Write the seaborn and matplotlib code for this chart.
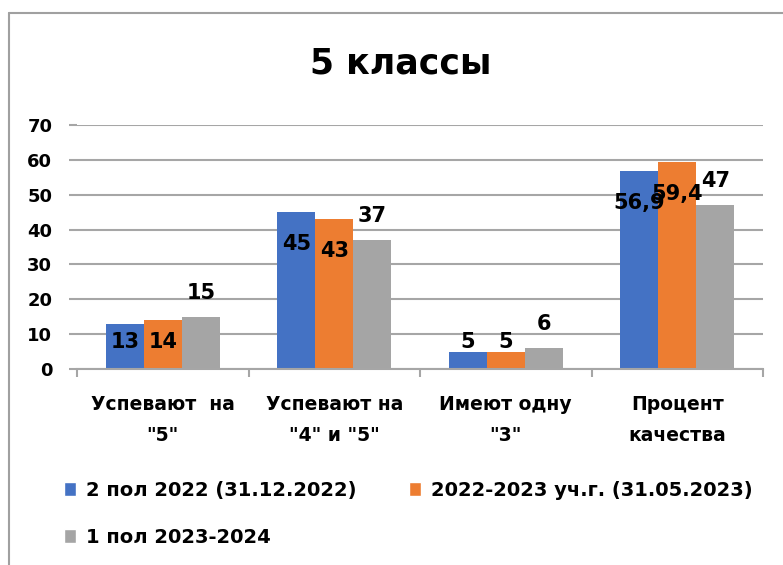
import matplotlib
matplotlib.use('Agg')
import matplotlib.pyplot as plt
import seaborn as sns
import pandas as pd
from matplotlib.patches import Patch
from matplotlib.lines import Line2D

# ---- data ----
categories = ['Успевают  на\n"5"', 'Успевают на\n"4" и "5"', 'Имеют одну\n"3"', 'Процент\nкачества']
series_names = ['2 пол 2022 (31.12.2022)', '2022-2023 уч.г. (31.05.2023)', '1 пол 2023-2024']
s1_values = [13, 45, 5, 56.9]
s2_values = [14, 43, 5, 59.4]
s3_values = [15, 37, 6, 47]
colors = ['#4472C4', '#ED7D31', '#A5A5A5']
y_ticks = [0, 10, 20, 30, 40, 50, 60, 70]
title = '5 классы'

series_values = [s1_values, s2_values, s3_values]
rows = []
for name, vals in zip(series_names, series_values):
    for c, v in zip(categories, vals):
        rows.append({'cat': c, 'val': v, 'series': name})
df = pd.DataFrame(rows)

sns.set_theme(style='white')
plt.rcParams['font.family'] = ['DejaVu Sans']
plt.rcParams['font.weight'] = 'bold'
plt.rcParams['text.color'] = 'black'

W, H = 783, 565
fig = plt.figure(figsize=(W / 100, H / 100), dpi=100)
ax = fig.add_axes([77 / W, 1 - 369 / H, (763 - 77) / W, (369 - 125) / H])

sns.barplot(data=df, x='cat', y='val', hue='series', hue_order=series_names,
            order=categories, palette=colors, width=0.665, gap=0,
            saturation=1, legend=False, ax=ax, errorbar=None, linewidth=0)

grid_c = '#a6a6a6'
ax.set_xlim(-0.5, len(categories) - 0.5)
ax.set_ylim(0, 70)
ax.set_yticks(y_ticks)
ax.set_yticklabels([str(t) for t in y_ticks], fontsize=13, fontweight='bold', color='black')
ax.yaxis.grid(True, color=grid_c, linewidth=1.5)
ax.set_axisbelow(True)
for s in ['left', 'right', 'top']:
    ax.spines[s].set_visible(False)
ax.spines['bottom'].set_color(grid_c)
ax.spines['bottom'].set_linewidth(1.5)
ax.tick_params(axis='y', length=5.8, width=1.5, color=grid_c, pad=12, left=True)
ax.set_xticks(range(len(categories)))
ax.set_xticklabels(categories, fontsize=13.5, fontweight='bold', color='black', linespacing=1.75)
ax.tick_params(axis='x', which='major', length=0, pad=19)
ax.set_xticks([i - 0.5 for i in range(len(categories) + 1)], minor=True)
ax.tick_params(axis='x', which='minor', length=5.8, width=1.5, color=grid_c, bottom=True)
ax.set_xlabel('')
ax.set_ylabel('')

# ---- data labels ----
def fmt(v):
    if float(v).is_integer():
        return str(int(v))
    return str(v).replace('.', ',')

for i, (container, vals) in enumerate(zip(ax.containers, series_values)):
    for bar, v in zip(container, vals):
        x = bar.get_x() + bar.get_width() / 2
        top_px = ax.transData.transform((x, v))[1]
        base_px = ax.transData.transform((x, 0))[1]
        if i < 2:
            center = max(top_px - 32, base_px + 27)
        else:
            center = top_px + 24
        ax.annotate(fmt(v), xy=(x, 0), xytext=(0, center - base_px),
                    textcoords='offset pixels', ha='center', va='center',
                    fontsize=15, fontweight='bold', color='black',
                    annotation_clip=False)

# ---- title ----
fig.text(401 / W, 1 - 63 / H, title, ha='center', va='center',
         fontsize=25, fontweight='bold', color='black')

# ---- legend ----
handles = [Patch(facecolor=colors[0]), Patch(facecolor=colors[2]), Patch(facecolor=colors[1])]
labels = [series_names[0], series_names[2], series_names[1]]
leg = fig.legend(handles, labels, ncol=2, loc='upper left',
                 bbox_to_anchor=(64 / W, 1 - 481 / H), frameon=False,
                 prop={'weight': 'bold', 'size': 14},
                 handlelength=0.62, handleheight=0.72, handletextpad=0.5,
                 columnspacing=2.7, labelspacing=1.45, borderpad=0, borderaxespad=0)
for t in leg.get_texts():
    t.set_color('black')

# ---- outer border ----
bc = '#a0a0a0'
fig.add_artist(Line2D([9 / W, 9 / W], [0, 1 - 13 / H], transform=fig.transFigure, color=bc, lw=1.5))
fig.add_artist(Line2D([9 / W, 1], [1 - 13 / H, 1 - 13 / H], transform=fig.transFigure, color=bc, lw=1.5))

fig.savefig('out.png', dpi=100)
